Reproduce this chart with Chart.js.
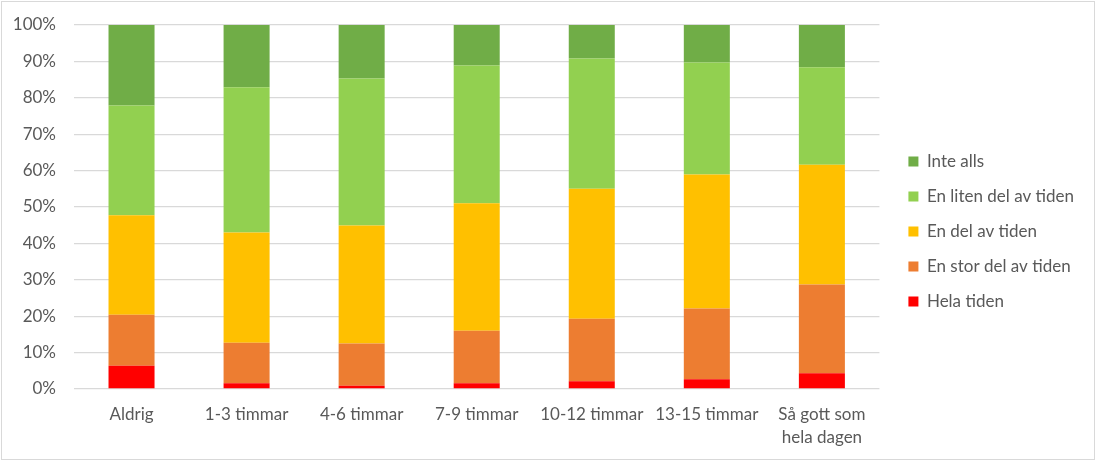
<!DOCTYPE html>
<html>
<head>
<meta charset="utf-8">
<script src="https://cdn.jsdelivr.net/npm/chart.js@4"></script>
<style>
html,body{margin:0;padding:0;background:#fff;}
#frame{position:absolute;left:1px;top:1px;width:1092px;height:457px;border:1px solid #d9d9d9;}
#wrap{position:absolute;left:0;top:0;width:1097px;height:462px;}
</style>
</head>
<body>
<div id="frame"></div>
<div id="wrap"><canvas id="c"></canvas></div>
<script>
const categories = ["Aldrig", "1-3 timmar", "4-6 timmar", "7-9 timmar", "10-12 timmar", "13-15 timmar", ["Så gott som", "hela dagen"]];
const helaTiden       = [6.4, 1.6, 0.9, 1.6, 2.1, 2.7, 4.3];
const enStorDel       = [14.0, 11.1, 11.6, 14.4, 17.2, 19.4, 24.4];
const enDel           = [27.3, 30.3, 32.4, 35.0, 35.7, 36.8, 32.9];
const enLitenDel      = [30.2, 39.9, 40.4, 37.9, 35.8, 30.8, 26.8];
const inteAlls        = [22.1, 17.1, 14.7, 11.1, 9.2, 10.3, 11.6];
const yTicks = [0, 10, 20, 30, 40, 50, 60, 70, 80, 90, 100];

const FONT = "Lato";
const FS = 17;
const ds = (label, data, color) => ({label, data, backgroundColor: color, borderWidth: 0, barPercentage: 0.4, categoryPercentage: 1});

const legendShift = {
  id: 'legendShift',
  afterLayout(chart) {
    const lg = chart.legend;
    if (!lg) return;
    lg.left += 11; lg.right += 11;
    lg.top -= 4; lg.bottom -= 4;
  }
};

new Chart(document.getElementById('c'), {
  type: 'bar',
  data: {
    labels: categories,
    datasets: [
      ds("Hela tiden", helaTiden, "#FF0000"),
      ds("En stor del av tiden", enStorDel, "#ED7D31"),
      ds("En del av tiden", enDel, "#FFC000"),
      ds("En liten del av tiden", enLitenDel, "#92D050"),
      ds("Inte alls", inteAlls, "#70AD47")
    ]
  },
  plugins: [legendShift],
  options: {
    responsive: true,
    maintainAspectRatio: false,
    animation: false,
    layout: {padding: {top: 25, left: 0, right: 24, bottom: 16}},
    plugins: {
      legend: {
        position: 'right',
        reverse: true,
        labels: {boxWidth: 10, boxHeight: 10, padding: 18, color: '#595959', font: {family: FONT, size: FS}}
      },
      tooltip: {enabled: false}
    },
    scales: {
      x: {
        stacked: true,
        grid: {display: false},
        border: {display: false},
        afterFit: (s) => { s.height = 57; },
        ticks: {color: '#595959', padding: 6, maxRotation: 0, autoSkip: false, font: {family: FONT, size: FS, lineHeight: 1.35}}
      },
      y: {
        stacked: true,
        min: 0, max: 100,
        afterBuildTicks: (s) => { s.ticks = yTicks.map(v => ({value: v})); },
        afterFit: (s) => { s.width = 74; s.paddingTop = 0; s.paddingBottom = 0; },
        grid: {color: '#d9d9d9', lineWidth: 1.3, drawTicks: false},
        border: {display: false},
        ticks: {color: '#595959', padding: 18, font: {family: FONT, size: FS}, callback: v => v + '%'}
      }
    }
  }
});
</script>
</body>
</html>
